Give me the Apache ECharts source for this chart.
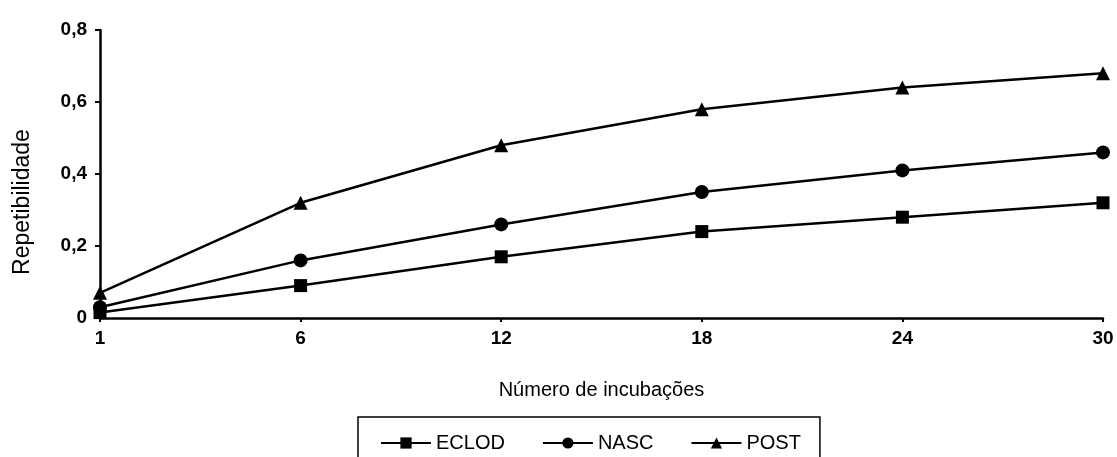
<!DOCTYPE html>
<html>
<head>
<meta charset="utf-8">
<script src="https://cdn.jsdelivr.net/npm/echarts@6/dist/echarts.min.js"></script>
<style>
html,body{margin:0;padding:0;background:#fff;}
#c{width:1117px;height:457px;}
</style>
</head>
<body>
<div id="c"></div>
<script>
var categories = ['1', '6', '12', '18', '24', '30'];
var seriesNames = ['ECLOD', 'NASC', 'POST'];
var eclod = [0.015, 0.09, 0.17, 0.24, 0.28, 0.32];
var nasc = [0.03, 0.16, 0.26, 0.35, 0.41, 0.46];
var post = [0.07, 0.32, 0.48, 0.58, 0.64, 0.68];
var yTicks = [0, 0.2, 0.4, 0.6, 0.8];
var xTitle = 'Número de incubações';
var yTitle = 'Repetibilidade';

var FONT = '"Liberation Sans", Arial, sans-serif';
var chart = echarts.init(document.getElementById('c'), null, {renderer: 'canvas'});

function mk(name, data, symbol, size) {
  return {
    name: name, type: 'line', data: data,
    symbol: symbol, symbolSize: size, showSymbol: true,
    lineStyle: {color: '#000', width: 2.5},
    itemStyle: {color: '#000'},
    animation: false
  };
}

chart.setOption({
  backgroundColor: '#fff',
  animation: false,
  grid: {left: 100, right: 14, top: 30, bottom: 139, containLabel: false},
  legend: {
    data: seriesNames,
    left: 358, top: 417,
    orient: 'horizontal',
    padding: [16, 19, 12, 22],
    itemWidth: 50, itemHeight: 14, itemGap: 37,
    borderColor: '#000', borderWidth: 1.5,
    textStyle: {fontFamily: FONT, fontSize: 20, color: '#000'}
  },
  xAxis: {
    type: 'category', data: categories, boundaryGap: false,
    name: xTitle, nameLocation: 'middle', nameGap: 62,
    nameTextStyle: {fontFamily: FONT, fontSize: 20, color: '#000'},
    axisLine: {lineStyle: {color: '#000', width: 2.5}},
    axisTick: {show: true, length: 4, lineStyle: {color: '#000', width: 2}, alignWithLabel: true},
    axisLabel: {fontFamily: FONT, fontSize: 19, fontWeight: 'bold', color: '#000', margin: 11},
    splitLine: {show: false}
  },
  yAxis: {
    type: 'value', min: yTicks[0], max: yTicks[yTicks.length - 1], interval: 0.2,
    axisLine: {show: true, lineStyle: {color: '#000', width: 2.5}},
    axisTick: {show: true, length: 5, lineStyle: {color: '#000', width: 2}},
    axisLabel: {
      fontFamily: FONT, fontSize: 19, fontWeight: 'bold', color: '#000', margin: 13,
      formatter: function (v) { return v === 0 ? '0' : v.toFixed(1).replace('.', ','); }
    },
    splitLine: {show: false}
  },
  graphic: [{
    type: 'text',
    x: 23, y: 202,
    rotation: Math.PI / 2,
    style: {
      text: yTitle, fontFamily: FONT, fontSize: 23, fill: '#000',
      align: 'center', verticalAlign: 'middle'
    }
  }],
  series: [
    mk(seriesNames[0], eclod, 'rect', 13),
    mk(seriesNames[1], nasc, 'circle', 14),
    mk(seriesNames[2], post, 'triangle', 14)
  ]
});
</script>
</body>
</html>
